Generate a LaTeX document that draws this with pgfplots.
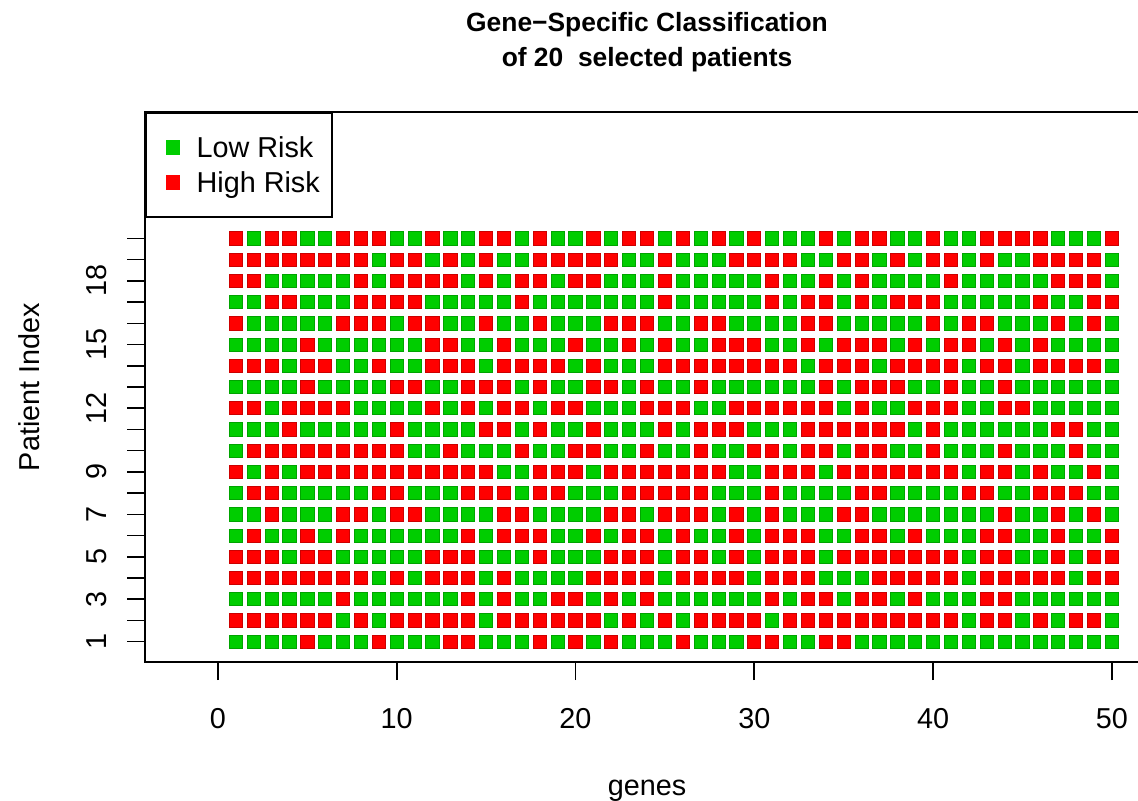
\documentclass[border=0pt]{standalone}
\usepackage{fontspec}
\setmainfont{Liberation Sans}
\usepackage{pgfplots}
\usepackage{pgfplotstable}
\pgfplotsset{compat=1.18}
\definecolor{lowgreen}{HTML}{00CD00}
\definecolor{highred}{HTML}{FF0000}
% 1 = High Risk (red), 0 = Low Risk (green); rows = patients, columns c1..c50 = genes
\pgfplotstableread{
p c1 c2 c3 c4 c5 c6 c7 c8 c9 c10 c11 c12 c13 c14 c15 c16 c17 c18 c19 c20 c21 c22 c23 c24 c25 c26 c27 c28 c29 c30 c31 c32 c33 c34 c35 c36 c37 c38 c39 c40 c41 c42 c43 c44 c45 c46 c47 c48 c49 c50
20 1 0 1 1 0 0 1 1 1 0 0 1 0 0 1 1 0 1 0 0 1 0 1 1 0  1 0 1 0 1 0 0 0 1 0 1 1 0 0 1 0 0 1 1 1 1 0 0 0 1
19 1 1 1 1 1 1 1 1 0 1 1 0 1 0 1 0 0 1 1 1 1 1 0 0 1  0 0 0 1 1 1 1 0 0 1 1 0 1 0 1 1 0 1 0 0 1 1 1 1 0
18 1 1 0 0 0 0 0 1 0 1 1 1 1 0 1 0 1 1 0 1 1 0 0 0 1  0 0 0 0 0 1 0 0 1 0 1 0 0 0 0 1 0 0 0 0 0 1 1 1 0
17 0 0 1 1 0 0 0 1 1 1 1 0 0 0 0 0 1 0 0 0 0 0 0 0 1  0 0 0 0 0 1 0 1 1 0 1 0 1 1 1 0 0 0 0 0 1 0 0 1 1
16 1 0 0 0 0 0 1 1 1 0 1 1 0 0 1 0 0 1 0 0 0 1 1 1 0  0 1 1 0 0 0 0 1 1 0 0 0 0 0 1 0 1 1 0 0 0 1 0 1 0
15 0 0 0 0 1 0 0 0 0 0 0 1 1 0 0 1 0 0 0 1 0 0 1 0 1  0 0 1 1 1 0 0 1 0 1 1 1 0 1 0 1 1 0 1 0 1 0 0 0 0
14 1 1 1 0 1 1 0 0 1 0 0 1 1 1 0 1 1 1 1 0 1 0 0 0 1  1 1 1 1 1 1 1 0 1 1 1 0 1 1 1 1 0 1 1 0 1 1 1 1 0
13 0 0 0 0 1 0 0 0 0 1 1 0 0 1 1 1 0 1 0 0 1 1 0 1 0  0 1 0 0 0 0 0 0 1 0 1 1 1 0 0 1 0 0 1 0 0 0 0 0 0
12 1 1 0 1 1 1 1 0 0 0 0 1 0 1 0 1 1 0 1 1 0 0 0 1 1  1 0 0 1 1 1 1 1 1 0 1 0 0 1 1 1 0 0 1 1 0 0 0 0 0
11 0 0 0 1 0 0 0 0 0 1 0 0 0 0 1 1 0 1 0 0 1 0 0 0 1  0 1 1 1 0 0 0 1 1 1 1 1 1 0 1 0 0 0 0 0 0 1 1 0 0
10 0 1 1 1 1 1 1 1 1 1 0 0 1 0 0 0 1 0 0 1 1 0 0 1 0  0 1 0 0 1 1 0 1 1 0 1 1 0 0 1 0 0 0 1 0 0 0 1 0 0
9  1 0 1 0 1 1 1 1 1 1 1 1 1 1 1 0 0 1 1 1 0 1 1 1 1  1 1 1 0 0 1 1 1 0 1 1 1 1 1 1 1 0 1 1 0 1 0 0 1 0
8  0 1 1 0 0 0 0 0 1 1 0 0 0 1 1 1 0 1 1 0 0 0 1 1 1  1 1 0 0 0 1 0 0 0 0 1 1 0 0 0 0 1 1 0 0 1 1 1 0 0
7  0 0 1 0 0 0 1 1 0 1 1 0 0 0 0 1 1 0 0 0 0 1 1 0 1  1 1 0 1 0 1 0 0 0 1 1 0 0 0 0 0 0 0 1 0 0 1 0 1 0
6  0 1 0 0 1 0 1 0 0 0 0 0 0 1 0 1 1 1 0 0 1 0 1 1 0  1 0 0 1 0 1 1 1 0 0 1 1 0 1 0 0 0 1 1 0 0 1 0 0 1
5  1 1 1 0 1 1 0 0 0 0 0 1 1 1 0 0 0 1 0 0 0 1 1 1 0  1 1 0 1 0 1 1 1 0 1 1 1 1 1 1 1 0 1 1 0 0 1 0 1 1
4  1 1 1 1 1 1 1 1 0 1 0 1 1 1 0 1 0 0 0 0 1 1 1 1 0  1 1 1 1 0 1 1 1 0 0 0 1 1 1 1 1 0 1 1 1 1 1 0 1 1
3  0 0 0 0 0 0 1 0 0 0 0 0 0 1 0 1 0 0 1 1 0 1 0 1 0  0 0 0 0 0 1 0 1 1 0 1 1 0 1 0 0 0 1 1 0 0 0 0 0 0
2  1 1 1 1 1 1 0 1 0 1 1 1 1 1 0 1 1 1 1 1 1 0 1 0 1  0 1 1 1 1 0 1 1 1 1 1 1 1 1 1 1 0 1 1 0 1 0 1 1 0
1  0 0 0 0 1 0 0 0 1 0 0 0 1 1 0 0 0 1 0 1 0 1 0 0 0  1 0 0 0 1 1 0 0 1 1 0 0 0 0 0 0 0 0 0 0 0 0 0 0 0
}\risk
\begin{document}
\begin{tikzpicture}
\useasboundingbox (0,0) rectangle (569pt,400pt);
\begin{axis}[
  at={(72.5pt,69pt)}, anchor=south west,
  scale only axis, width=502pt, height=275pt,
  xmin=-4.08, xmax=52.08, ymin=0.04, ymax=25.96,
  clip=false,
  axis line style={line width=0.8pt},
  every tick/.style={black, line width=0.8pt},
  tick align=outside, major tick length=9pt,
  xtick pos=left, ytick pos=left,
  xtick={0,10,20,30,40,50},
  ytick={1,...,20},
  yticklabels={1,,3,,5,,7,,9,,,12,,,15,,,18,,},
  /pgf/number format/assume math mode=true,
  tick label style={font=\fontsize{14.4}{17}\selectfont},
  xticklabel style={anchor=base, yshift=-24pt},
  yticklabel style={rotate=90, anchor=base, yshift=10pt},
  xlabel={genes},
  xlabel style={font=\fontsize{14.4}{17}\selectfont, at={(axis description cs:0.5,0)}, anchor=base, yshift=-66.5pt},
  ylabel={Patient Index},
  ylabel style={font=\fontsize{14.4}{17}\selectfont, at={(axis description cs:0,0.5)}, anchor=base, yshift=52.5pt},
  colormap={riskmap}{color=(lowgreen) color=(highred)},
  point meta min=0, point meta max=1,
  legend cell align=left,
  legend image code/.code={\path (0pt,0pt) (10.8pt,0pt); \draw[#1] plot coordinates {(7.2pt,0pt)};},
  legend style={at={(0,1)}, anchor=north west, draw=black, line width=0.8pt, fill=white,
    font=\fontsize{14.4}{17}\selectfont, inner xsep=6pt, inner ysep=8.5pt, row sep=0pt,
    column sep=7.8pt,
    nodes={inner sep=0pt, text height=13.9pt, text depth=3.6pt}},
]
\addlegendimage{only marks, mark=square*, mark size=3.3pt, color=lowgreen}
\addlegendentry{Low Risk}
\addlegendimage{only marks, mark=square*, mark size=3.3pt, color=highred}
\addlegendentry{High Risk}
\pgfplotsinvokeforeach{1,...,50}{
  \addplot[forget plot, scatter, only marks, mark=square*, mark size=3.3pt,
    point meta=explicit] table[x expr=#1, y=p, meta=c#1] {\risk};
}
\node[font=\fontsize{13.2}{16}\bfseries, anchor=base] at (axis description cs:0.5,1) [yshift=40.25pt] {Gene−Specific Classification};
\node[font=\fontsize{13.2}{16}\bfseries, anchor=base] at (axis description cs:0.5,1) [yshift=22.75pt] {of 20\ \ selected patients};
\end{axis}
\end{tikzpicture}
\end{document}
